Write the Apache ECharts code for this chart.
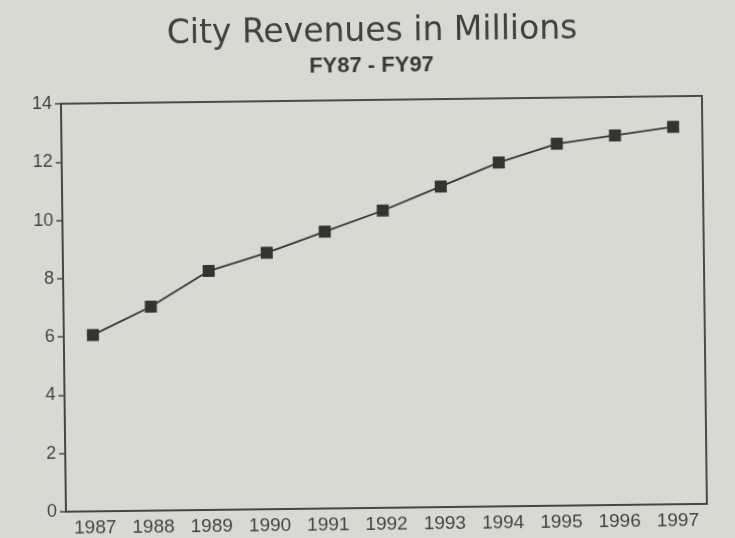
<!DOCTYPE html>
<html>
<head>
<meta charset="utf-8">
<script src="https://cdn.jsdelivr.net/npm/echarts@6/dist/echarts.min.js"></script>
<style>
html,body{margin:0;padding:0;background:#d9d9d4;overflow:hidden;}
#chart{width:735px;height:538px;transform:rotate(-0.7deg);transform-origin:367px 269px;}
</style>
</head>
<body>
<div id="chart"></div>
<script>
var years = ['1987','1988','1989','1990','1991','1992','1993','1994','1995','1996','1997'];
var revenues = [6.05, 7.0, 8.2, 8.8, 9.5, 10.2, 11.0, 11.8, 12.42, 12.68, 12.95];
var yTicks = [0, 2, 4, 6, 8, 10, 12, 14];
var titleText = 'City Revenues in Millions';
var subtitleText = 'FY87 - FY97';

var chart = echarts.init(document.getElementById('chart'), null, {renderer: 'canvas'});
var ink = '#353535';
chart.setOption({
  backgroundColor: '#d9d9d4',
  animation: false,
  title: [{
    text: titleText,
    left: 375,
    top: 16,
    padding: 0,
    textAlign: 'center',
    textStyle: {fontFamily: 'DejaVu Sans', fontSize: 33, fontWeight: 'normal', color: '#404040'}
  }, {
    text: subtitleText,
    left: 374,
    top: 55,
    padding: 0,
    textAlign: 'center',
    textStyle: {fontFamily: 'Liberation Sans', fontSize: 22, fontWeight: 'bold', color: '#383838'}
  }],
  grid: {
    left: 63, right: 31, top: 100, bottom: 30,
    show: true, borderColor: '#4a4a4a', borderWidth: 2, backgroundColor: 'transparent'
  },
  xAxis: {
    type: 'category',
    data: years,
    boundaryGap: true,
    axisLine: {lineStyle: {color: '#454545', width: 2}},
    axisTick: {alignWithLabel: true, length: 5, lineStyle: {color: '#454545', width: 1.5}},
    axisLabel: {fontFamily: 'Liberation Sans', fontSize: 19, color: '#444', margin: 7}
  },
  yAxis: {
    type: 'value',
    min: yTicks[0],
    max: yTicks[yTicks.length - 1],
    interval: 2,
    axisLine: {show: true, lineStyle: {color: '#454545', width: 2}},
    axisTick: {show: true, length: 6, lineStyle: {color: '#454545', width: 1.5}},
    axisLabel: {fontFamily: 'Liberation Sans', fontSize: 18, color: '#444', margin: 9},
    splitLine: {show: false}
  },
  series: [{
    type: 'line',
    data: revenues,
    symbol: 'rect',
    symbolSize: 12,
    itemStyle: {color: '#333'},
    lineStyle: {color: ink, width: 1.8}
  }]
});
</script>
</body>
</html>
